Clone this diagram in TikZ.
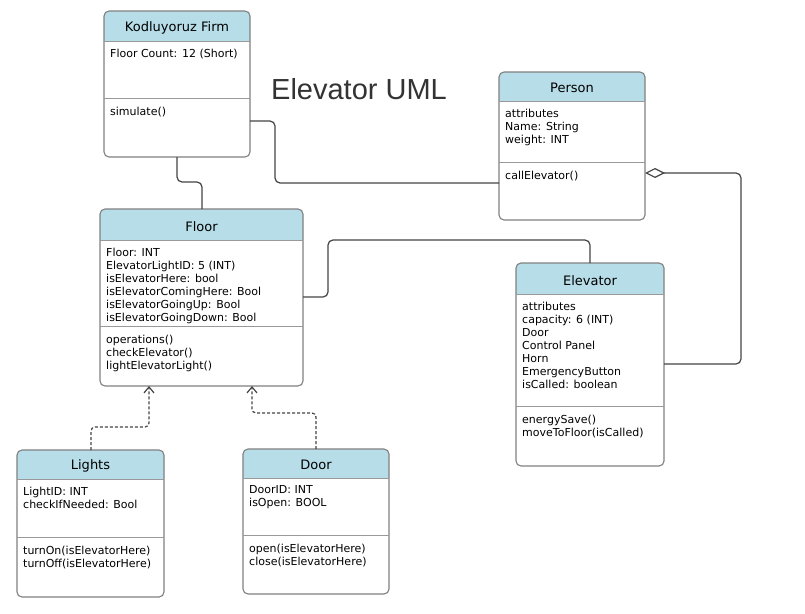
\documentclass[tikz,border=0pt]{standalone}
\usepackage{fontspec}
\setmainfont{DejaVu Sans}
\newfontfamily\titlefont{Liberation Sans}
\usetikzlibrary{arrows.meta}
\definecolor{headfill}{RGB}{183,221,232}
\definecolor{bordergray}{RGB}{128,128,128}
\definecolor{linegray}{RGB}{68,68,68}
\tikzset{
  classbox/.style={inner sep=0pt, outer sep=0pt},
  classborder/.style={draw=bordergray, line width=1.1pt, rounded corners=5pt},
  divider/.style={draw=bordergray!80, line width=1pt},
  headtxt/.style={font=\fontsize{13}{15}\selectfont, text=black, inner sep=0pt},
  txt/.style={font=\fontsize{11}{13}\selectfont, align=left, anchor=north west, inner sep=0pt, text=black},
  conn/.style={draw=linegray, line width=1.2pt, rounded corners=5pt},
  dep/.style={draw=linegray, line width=1.2pt, dash pattern=on 3pt off 2pt, rounded corners=4pt},
}
\newcommand\umlclass[9]{%
  \node[classbox, minimum width={(#4-#2)*1pt}, minimum height={(#5-#3)*1pt}, anchor=north west] (#1) at (#2,#3) {};
  \begin{scope}
    \clip (#2,#3) rectangle (#4,#6);
    \fill[headfill, rounded corners=5pt] (#1.north west) rectangle (#1.south east);
  \end{scope}
  \draw[classborder] (#1.north west) rectangle (#1.south east);
  \draw[divider] (#2,#6) -- (#4,#6);
  \draw[divider] (#2,#7) -- (#4,#7);
  \node[headtxt] (#1-title) at ({(#2+#4)/2},{(#3+#6)/2+1.8}) {#8};
  \node[txt] (#1-attrs) at ({#2+6},{#6+7.5}) {#9};
}
\begin{document}
\begin{tikzpicture}[x=1pt,y=-1pt]
\fill[white] (0,0) rectangle (805,613);
\useasboundingbox (0,0) rectangle (805,613);

\node[font=\titlefont\fontsize{29}{33}\selectfont, text={rgb,255:red,51;green,51;blue,51}] (title) at (359,89) {Elevator UML};

\umlclass{firm}{104}{11}{250}{157}{41}{98}{Kodluyoruz Firm}{Floor Count: 12 (Short)}
\node[txt] (firm-ops) at (110,106.5) {simulate()};

\umlclass{person}{499}{72}{645}{220}{101}{162}{Person}{attributes\\Name: String\\weight: INT}
\node[txt] (person-ops) at (505,170.5) {callElevator()};

\umlclass{floor}{100}{209}{303}{386}{240}{326}{Floor}{Floor: INT\\ElevatorLightID: 5 (INT)\\isElevatorHere: bool\\isElevatorComingHere: Bool\\isElevatorGoingUp: Bool\\isElevatorGoingDown: Bool}
\node[txt] (floor-ops) at (106,334.5) {operations()\\checkElevator()\\lightElevatorLight()};

\umlclass{elev}{516}{263}{664}{466}{294}{406}{Elevator}{attributes\\capacity: 6 (INT)\\Door\\Control Panel\\Horn\\EmergencyButton\\isCalled: boolean}
\node[txt] (elev-ops) at (522,414.5) {energySave()\\moveToFloor(isCalled)};

\umlclass{lights}{17}{450}{164}{597}{479}{537}{Lights}{LightID: INT\\checkIfNeeded: Bool}
\node[txt] (lights-ops) at (23,545.5) {turnOn(isElevatorHere)\\turnOff(isElevatorHere)};

\umlclass{door}{243}{449}{389}{594}{478}{535}{Door}{DoorID: INT\\isOpen: BOOL}
\node[txt] (door-ops) at (249,543.5) {open(isElevatorHere)\\close(isElevatorHere)};

% connectors
\draw[conn] (177,0 |- firm.south) -- (177,182) -- (202,182) -- (202,0 |- floor.north);
\draw[conn] (firm.east |- 0,121) -- (275,121) -- (275,183) -- (person.west |- 0,183);
\draw[conn] (floor.east |- 0,297) -- (328,297) -- (328,240) -- (590,240) -- (590,0 |- elev.north);
\draw[conn, -{Diamond[open, fill=white, length=20pt, width=10pt]}] (elev.east |- 0,364) -- (741,364) -- (741,173) -- (person.east |- 0,173);
\draw[dep, -{Straight Barb[length=6pt, width=10pt]}] (91,0 |- lights.north) -- (91,427) -- (149,427) -- (149,0 |- floor.south);
\draw[dep, -{Straight Barb[length=6pt, width=10pt]}] (316,0 |- door.north) -- (316,413) -- (252,413) -- (252,0 |- floor.south);
\end{tikzpicture}
\end{document}
